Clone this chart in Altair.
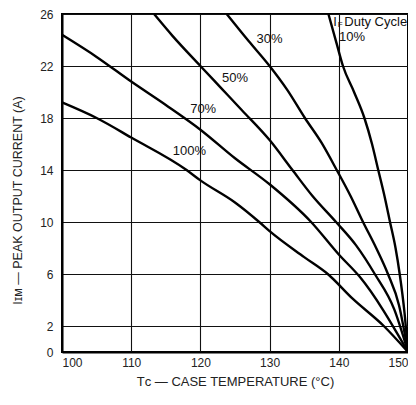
import altair as alt
import pandas as pd

# Case temperature (°C) / peak output current (A) for each duty cycle
T100 = [100, 105, 110, 118, 120, 125, 128.5, 130, 135, 138.4, 142, 146.5, 150]
I100 = [19.2, 18.0, 16.5, 14.0, 13.2, 11.5, 10.0, 9.3, 7.3, 6.0, 4.1, 2.0, 0]

T70 = [100, 105, 110, 115, 120, 125, 130, 136, 140, 143, 150]
I70 = [24.4, 22.7, 20.8, 19.0, 17.1, 14.9, 12.9, 10.0, 7.5, 5.8, 0]

T50 = [113.3, 116, 120, 123, 126, 130, 133.3, 136.2, 139.6, 142.5, 145.2, 148, 150]
I50 = [26, 24.3, 22, 20.3, 18.6, 16.3, 14, 12, 10, 8.2, 6, 3.3, 0]

T30 = [123.8, 127, 130, 132.5, 135.1, 137.5, 139.7, 141.7, 143.5, 145.4, 147.1, 148.7, 150]
I30 = [26, 23.9, 22, 20.2, 18, 16.1, 14, 12, 10, 8, 6, 3.6, 0]

T10 = [138.5, 139.7, 140.6, 142.2, 143.7, 144.8, 145.7, 146.6, 147.4, 148.2, 148.8, 149.5, 150]
I10 = [26, 23.7, 22, 20, 18, 16, 14, 12, 10, 8, 6, 3, 0]

series_names = ["100%", "70%", "50%", "30%", "10%"]
series_T = [T100, T70, T50, T30, T10]
series_I = [I100, I70, I50, I30, I10]

label_text = ["30%", "50%", "70%", "100%", "10%"]
label_T = [130.0, 125.0, 120.4, 118.4, 141.9]
label_I = [24.1, 21.1, 18.7, 15.5, 24.2]

# "I_F Duty Cycle" heading, split into main letter, subscript and rest
head_main = ["I"]
head_sub = ["F"]
head_rest = ["Duty Cycle"]
head_T = [139.2]
head_I = [25.35]

x_ticks = [100, 110, 120, 130, 140, 150]
y_ticks = [0, 2, 6, 10, 14, 18, 22, 26]

rows = []
for name, ts, vs in zip(series_names, series_T, series_I):
    for t, v in zip(ts, vs):
        rows.append({"duty": name, "T": t, "I": v})
df = pd.DataFrame(rows)

lab = pd.DataFrame({"txt": label_text, "T": label_T, "I": label_I})
head = pd.DataFrame({"main": head_main, "sub": head_sub, "rest": head_rest,
                     "T": head_T, "I": head_I})

FONT = "Liberation Sans"

xs = alt.Scale(domain=[100, 150], nice=False, zero=False)
ys = alt.Scale(domain=[0, 26], nice=False)

xax = alt.Axis(values=x_ticks, grid=True, gridColor="#111", gridWidth=1.1,
               ticks=False, labelPadding=5, labelFontSize=12, labelFont=FONT,
               labelColor="#222", domainColor="#000", domainWidth=2,
               title="Tᴄ — CASE TEMPERATURE (°C)", titleFont=FONT,
               titleFontSize=13, titleFontWeight="normal", titleColor="#222",
               titlePadding=7)
yax = alt.Axis(values=y_ticks, grid=True, gridColor="#111", gridWidth=1.1,
               ticks=False, labelPadding=9, labelFontSize=12, labelFont=FONT,
               labelColor="#222", domainColor="#000", domainWidth=2,
               title="Iɪᴍ — PEAK OUTPUT CURRENT (A)", titleFont=FONT,
               titleFontSize=12.5, titleFontWeight="normal", titleColor="#222",
               titleX=-45, titleY=186, titleAlign="center", titleAngle=270,
               titleBaseline="middle")

lines = alt.Chart(df).mark_line(color="black", strokeWidth=2.4, interpolate="monotone").encode(
    x=alt.X("T:Q", scale=xs, axis=xax),
    y=alt.Y("I:Q", scale=ys, axis=yax),
    detail="duty:N",
    order="T:Q",
)

labels = alt.Chart(lab).mark_text(font=FONT, fontSize=13, color="#111").encode(
    x=alt.X("T:Q", scale=xs), y=alt.Y("I:Q", scale=ys), text="txt:N"
)

h_main = alt.Chart(head).mark_text(font=FONT, fontSize=13, color="#111", align="left").encode(
    x=alt.X("T:Q", scale=xs), y=alt.Y("I:Q", scale=ys), text="main:N"
)
h_sub = alt.Chart(head).mark_text(font=FONT, fontSize=8, color="#111", align="left",
                                  dx=4.5, dy=3).encode(
    x=alt.X("T:Q", scale=xs), y=alt.Y("I:Q", scale=ys), text="sub:N"
)
h_rest = alt.Chart(head).mark_text(font=FONT, fontSize=13, color="#111", align="left",
                                   dx=11).encode(
    x=alt.X("T:Q", scale=xs), y=alt.Y("I:Q", scale=ys), text="rest:N"
)

chart = alt.layer(lines, labels, h_main, h_sub, h_rest).properties(
    width=346, height=338,
    autosize=alt.AutoSizeParams(type="none"),
    padding={"left": 54, "top": 6, "right": 0, "bottom": 44},
).configure_view(stroke="black", strokeWidth=2)

chart.save("out.html", embed_options={"renderer": "svg", "actions": False})
